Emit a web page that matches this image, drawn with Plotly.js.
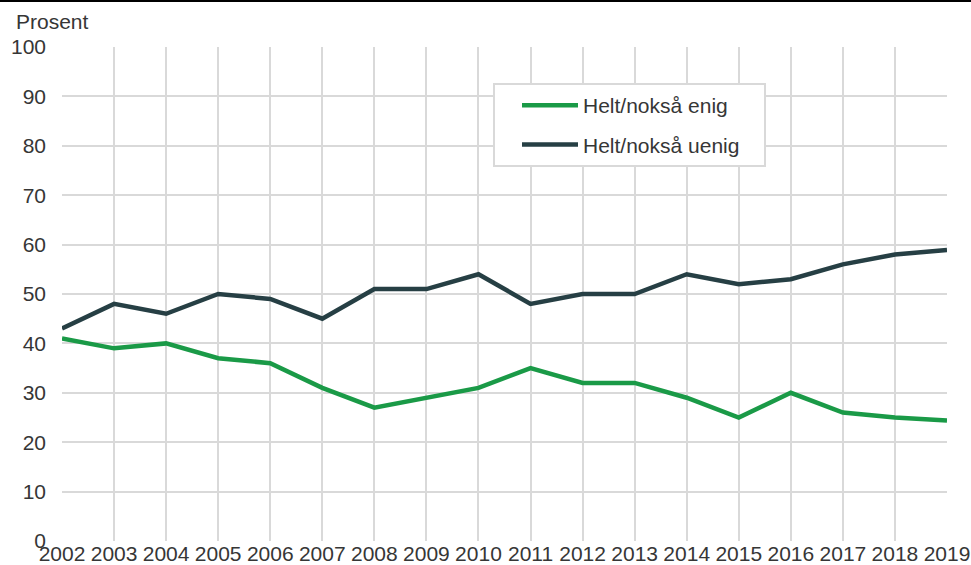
<!DOCTYPE html>
<html>
<head>
<meta charset="utf-8">
<script src="https://cdn.plot.ly/plotly-3.0.1.min.js"></script>
<style>html,body{margin:0;padding:0;background:#fff;}#chart{width:971px;height:565px;}</style>
</head>
<body>
<div id="chart"></div>
<script>
const years = [2002,2003,2004,2005,2006,2007,2008,2009,2010,2011,2012,2013,2014,2015,2016,2017,2018,2019];
const enig = [41,39,40,37,36,31,27,29,31,35,32,32,29,25,30,26,25,24.4];
const uenig = [43,48,46,50,49,45,51,51,54,48,50,50,54,52,53,56,58,58.9];
const seriesNames = ["Helt/nokså enig","Helt/nokså uenig"];
const yTicks = [0,10,20,30,40,50,60,70,80,90,100];

const font = {family:"Liberation Sans, Arial, sans-serif", size:21, color:"#363636"};
const traces = [
  {x:years, y:enig, name:seriesNames[0], mode:"lines", line:{color:"#1a9a47", width:4.5}, legendgroup:"a"},
  {x:years, y:uenig, name:seriesNames[1], mode:"lines", line:{color:"#263f44", width:4.5}, legendgroup:"b"}
];
const layout = {
  width:971, height:565,
  margin:{l:62, r:24, t:47, b:24},
  paper_bgcolor:"#fff", plot_bgcolor:"#fff",
  font:font,
  showlegend:true,
  legend:{x:(517-62)/885, y:(541-85)/494, xanchor:"left", yanchor:"top", bgcolor:"rgba(0,0,0,0)",
    borderwidth:0, font:font,
    traceorder:"grouped", tracegroupgap:9, itemwidth:56},
  xaxis:{range:[2002,2019], tickvals:years, ticktext:years.map(String), showgrid:true, gridcolor:"#d9d9d9", gridwidth:2,
    zeroline:false, showline:false, ticks:"", ticklen:0, tickfont:font, ticklabelstandoff:-2, fixedrange:true},
  yaxis:{range:[0,100], tickvals:yTicks, showgrid:true, gridcolor:"#d9d9d9", gridwidth:2,
    zeroline:false, showline:false, ticks:"", tickfont:font, ticklabelstandoff:15, fixedrange:true},
  annotations:[{text:"Prosent", xref:"paper", yref:"paper", x:(14-62)/885, y:1+(47-22)/494, xanchor:"left", yanchor:"middle", showarrow:false, font:font}],
  shapes:[
    {type:"line", xref:"paper", yref:"paper", x0:-0.08, x1:1.03, y0:1+(47-1)/494, y1:1+(47-1)/494, line:{color:"#000", width:2}},
    {type:"rect", layer:"above", xref:"paper", yref:"paper", x0:(494-62)/885, x1:(765-62)/885, y0:(541-166)/494, y1:(541-84)/494,
     fillcolor:"#fff", line:{color:"#d9d9d9", width:2}}
  ]
};
Plotly.newPlot("chart", traces, layout, {displayModeBar:false, staticPlot:true});
</script>
</body>
</html>
